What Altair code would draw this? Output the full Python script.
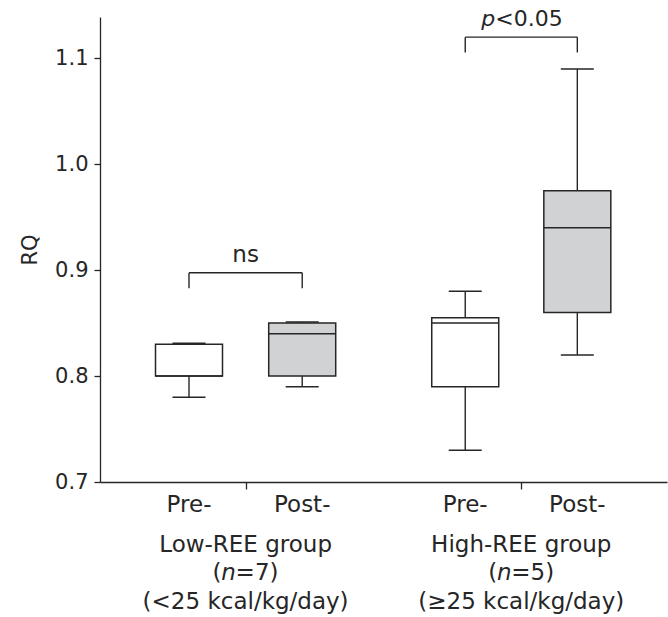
import altair as alt
import pandas as pd

# ---- data ----
conditions = ["Pre-", "Post-", "Pre-", "Post-"]
positions = [1.0, 2.0, 3.44, 4.43]
lower = [0.78, 0.79, 0.73, 0.82]
q1 = [0.80, 0.80, 0.79, 0.86]
median = [0.80, 0.84, 0.85, 0.94]
q3 = [0.83, 0.85, 0.855, 0.975]
upper = [0.831, 0.851, 0.88, 1.09]
fills = ["#ffffff", "#d1d2d4", "#ffffff", "#d1d2d4"]

group_centers = [1.5, 3.935]
group_names = ["Low-REE group", "High-REE group"]
group_n = ["=7)", "=5)"]
group_ranges = ["(<25 kcal/kg/day)", "(\u226525 kcal/kg/day)"]

br_x1 = [1.0, 3.44]
br_x2 = [2.0, 4.43]
br_top = [0.8975, 1.12]
br_leg = [0.883, 1.1055]
br_text_pre = ["", "p"]
br_text_post = ["ns", "<0.05"]

y_ticks = [0.7, 0.8, 0.9, 1.0, 1.1]

INK = "#262626"
FONT = "DejaVu Sans"
FS = 23

boxes = pd.DataFrame(dict(cond=conditions, x=positions, lo=lower, q1=q1,
                          med=median, q3=q3, hi=upper, fill=fills))
groups = pd.DataFrame(dict(x=group_centers, name=group_names, n=group_n,
                           rng=group_ranges))
brackets = pd.DataFrame(dict(x1=br_x1, x2=br_x2, top=br_top, leg=br_leg,
                             tp=br_text_pre, tq=br_text_post))

xs = alt.Scale(domain=[0.258, 5.178], nice=False, zero=False)
ys = alt.Scale(domain=[0.7, 1.139], nice=False, zero=False)

X = alt.X("x:Q", scale=xs,
          axis=alt.Axis(values=group_centers, labels=False, title=None,
                        grid=False, tickSize=7, tickColor=INK,
                        domainColor=INK, tickWidth=1.3, domainWidth=1.3))

base = alt.Chart(boxes)

whisk_lo = base.mark_rule(color=INK, strokeWidth=1.4).encode(
    x=X,
    y=alt.Y("lo:Q", scale=ys,
            axis=alt.Axis(values=y_ticks, format=".1f", title="RQ",
                          grid=False, tickSize=6, tickColor=INK,
                          domainColor=INK, tickWidth=1.3, domainWidth=1.3,
                          labelFontSize=21, labelFont=FONT, labelColor=INK,
                          labelPadding=6, titleFontSize=21, titleFont=FONT,
                          titleColor=INK, titleFontWeight="normal",
                          titlePadding=14)),
    y2="q1:Q")
whisk_hi = base.mark_rule(color=INK, strokeWidth=1.4).encode(
    x="x:Q", y="q3:Q", y2="hi:Q")
cap_lo = base.mark_tick(orient="horizontal", size=33, thickness=1.5,
                        color=INK, opacity=1).encode(x="x:Q", y="lo:Q")
cap_hi = base.mark_tick(orient="horizontal", size=33, thickness=1.5,
                        color=INK, opacity=1).encode(x="x:Q", y="hi:Q")
box = base.mark_bar(size=67, stroke=INK, strokeWidth=1.5).encode(
    x="x:Q", y="q1:Q", y2="q3:Q",
    fill=alt.Fill("fill:N", scale=None))
med = base.mark_tick(orient="horizontal", size=67, thickness=1.5,
                     color=INK, opacity=1).encode(x="x:Q", y="med:Q")

cond_text = base.mark_text(font=FONT, fontSize=FS, color=INK,
                           baseline="middle").encode(
    x="x:Q", y=alt.value(488), text="cond:N")

g = alt.Chart(groups)
g_name = g.mark_text(font=FONT, fontSize=FS, color=INK,
                     baseline="middle").encode(
    x="x:Q", y=alt.value(528), text="name:N")
g_open = g.mark_text(font=FONT, fontSize=FS, color=INK, baseline="middle",
                     align="right", dx=-24).encode(
    x="x:Q", y=alt.value(556), text=alt.value("("))
g_n = g.mark_text(font=FONT, fontSize=FS, color=INK, baseline="middle",
                  align="center", fontStyle="italic", dx=-17).encode(
    x="x:Q", y=alt.value(556), text=alt.value("n"))
g_eq = g.mark_text(font=FONT, fontSize=FS, color=INK, baseline="middle",
                   align="left", dx=-10).encode(
    x="x:Q", y=alt.value(556), text="n:N")
g_rng = g.mark_text(font=FONT, fontSize=FS, color=INK,
                    baseline="middle").encode(
    x="x:Q", y=alt.value(585), text="rng:N")

b = alt.Chart(brackets)
b_h = b.mark_rule(color=INK, strokeWidth=1.4).encode(
    x="x1:Q", x2="x2:Q", y="top:Q")
b_l = b.mark_rule(color=INK, strokeWidth=1.4).encode(
    x="x1:Q", y="leg:Q", y2="top:Q")
b_r = b.mark_rule(color=INK, strokeWidth=1.4).encode(
    x="x2:Q", y="leg:Q", y2="top:Q")
b_center = b.transform_calculate(xc="(datum.x1 + datum.x2) / 2")

b_ns = b_center.transform_filter("datum.tp == ''").mark_text(
    font=FONT, fontSize=FS, color=INK, baseline="alphabetic",
    dy=-11).encode(x="xc:Q", y="top:Q", text="tq:N")
b_pv = b_center.transform_filter("datum.tp != ''").mark_text(
    font=FONT, fontSize=22, color=INK, baseline="alphabetic", align="left",
    dy=-11, dx=-26).encode(x="xc:Q", y="top:Q", text="tq:N")
b_p = b_center.transform_filter("datum.tp != ''").mark_text(
    font=FONT, fontSize=22, color=INK, baseline="alphabetic",
    fontStyle="italic", align="right", dy=-11, dx=-26).encode(
    x="xc:Q", y="top:Q", text="tp:N")

chart = alt.layer(
    whisk_lo, whisk_hi, box, med, cap_lo, cap_hi,
    cond_text, g_name, g_open, g_n, g_eq, g_rng,
    b_h, b_l, b_r, b_ns, b_pv, b_p,
).properties(
    width=567, height=465,
    autosize=alt.AutoSizeParams(type="none"),
    padding={"left": 100, "top": 17, "right": 1, "bottom": 135},
    background="white",
).configure_view(stroke=None)

chart.save("out.html", embed_options={"renderer": "svg", "actions": False})
